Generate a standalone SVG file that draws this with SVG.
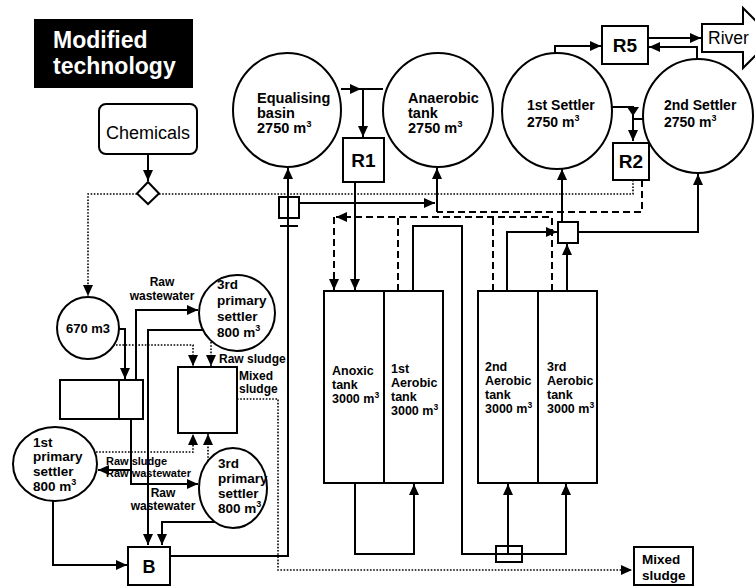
<svg xmlns="http://www.w3.org/2000/svg" width="755" height="586" viewBox="0 0 755 586">
<defs>
<style>
.n{fill:#fff;stroke:#000;stroke-width:2}
.s{fill:none;stroke:#000;stroke-width:2}
.d{fill:none;stroke:#000;stroke-width:1.6;stroke-dasharray:1.6 1.6}
.da{fill:none;stroke:#000;stroke-width:2;stroke-dasharray:7 4}
text{font-family:"Liberation Sans",Arial,sans-serif;font-weight:bold;fill:#000}
.reg{font-weight:normal}
</style>
<marker id="a" markerUnits="userSpaceOnUse" markerWidth="11" markerHeight="10" refX="11" refY="5" orient="auto">
<path d="M0,0 L11,5 L0,10 z" fill="#000"/>
</marker>
</defs>
<rect width="755" height="586" fill="#fff"/>

<g id="title">
<rect x="34" y="19" width="159" height="69" fill="#000"/>
<text x="53" y="48" font-size="23" style="fill:#fff">Modified</text>
<text x="53" y="74" font-size="23" style="fill:#fff">technology</text>
</g>

<g id="connectors">
<path class="s" d="M148,154 V181" marker-end="url(#a)"/>
<path class="d" d="M137,194 H88 V296" marker-end="url(#a)"/>
<path class="d" d="M159,194 H633 V180"/>
<path class="s" d="M118,329 H125 V379" marker-end="url(#a)"/>
<path class="d" d="M116,345 H193 V366" marker-end="url(#a)"/>
<path class="s" d="M136,380 V310 H198" marker-end="url(#a)"/>
<path class="s" d="M203,330 H148 V545" marker-end="url(#a)"/>
<path class="d" d="M211,342 V366" marker-end="url(#a)"/>
<path class="d" d="M237,399 H278 V570 H632" marker-end="url(#a)"/>
<path class="s" d="M131,419 V484 H198" marker-end="url(#a)"/>
<path class="s" d="M131,470 H98" marker-end="url(#a)"/>
<path class="d" d="M96,452 H193 V434" marker-end="url(#a)"/>
<path class="d" d="M208,461 V434" marker-end="url(#a)"/>
<path class="s" d="M215,522 H162 V545" marker-end="url(#a)"/>
<path class="s" d="M53,501 V565 H127" marker-end="url(#a)"/>
<path class="s" d="M170,556 H288 V168" marker-end="url(#a)"/>
<rect x="279" y="197" width="20" height="21" class="s"/>
<path class="s" d="M280,226 H298"/>
<path class="s" d="M299,203 H435" marker-end="url(#a)"/>
<path class="s" d="M437,212 V168" marker-end="url(#a)"/>
<path class="da" d="M642,180 V212 H437"/>
<path class="s" d="M341,89 H361" marker-end="url(#a)"/>
<path class="s" d="M358,89 H383"/>
<path class="s" d="M363,89 V137" marker-end="url(#a)"/>
<path class="s" d="M355,182 V290" marker-end="url(#a)"/>
<path class="da" d="M552,291 V217 H336" marker-end="url(#a)"/>
<path class="da" d="M334,217 V290" marker-end="url(#a)"/>
<path class="da" d="M398,291 V217"/>
<path class="da" d="M493,291 V217"/>
<path class="s" d="M413,291 V226 H462 V554 H566 V484" marker-end="url(#a)"/>
<path class="s" d="M508,554 V484" marker-end="url(#a)"/>
<rect x="496" y="546" width="26" height="16" class="s"/>
<path class="s" d="M355,483 V554 H414 V484" marker-end="url(#a)"/>
<path class="s" d="M507,291 V232 H557" marker-end="url(#a)"/>
<path class="s" d="M567,291 V244" marker-end="url(#a)"/>
<path class="s" d="M578,232 H698 V174" marker-end="url(#a)"/>
<path class="s" d="M562,222 V169" marker-end="url(#a)"/>
<rect x="558" y="222" width="20" height="21" class="n"/>
<path class="s" d="M612,107 H633 V141" marker-end="url(#a)"/>
<polygon points="627,107 639,107 633,116" fill="#000"/>
<path class="s" d="M633,119 H645"/>
<path class="s" d="M555,53 V46 H601" marker-end="url(#a)"/>
<path class="s" d="M648,38 H701" marker-end="url(#a)"/>
<path class="s" d="M697,59 V47 H649" marker-end="url(#a)"/>
</g>

<g id="chemicals">
<rect x="99" y="104" width="98" height="50" rx="7" class="n"/>
<text x="148" y="139" font-size="18" class="reg" text-anchor="middle">Chemicals</text>
</g>
<g id="dosing">
<polygon points="148,182 159,193.5 148,204 137,193.5" class="n"/>
</g>

<g id="tank670">
<circle cx="88" cy="328" r="31" class="n"/>
<text x="88" y="333" font-size="13" text-anchor="middle">670 m3</text>
</g>
<g id="splitbox">
<rect x="60" y="380" width="83" height="39" class="n"/>
<path class="s" d="M119,380 V419"/>
</g>

<g id="primary3top">
<circle cx="237" cy="313" r="38" class="n"/>
<text x="217" y="289" font-size="13.5">3rd</text>
<text x="217" y="305" font-size="13.5">primary</text>
<text x="217" y="321" font-size="13.5">settler</text>
<text x="217" y="337" font-size="13.5">800 m<tspan dy="-6" font-size="9">3</tspan></text>
</g>

<g id="mixbox">
<rect x="178" y="367" width="59" height="66" class="n"/>
</g>

<g id="primary1">
<ellipse cx="55" cy="464" rx="42" ry="37" class="n"/>
<text x="33" y="447" font-size="13.5">1st</text>
<text x="33" y="461" font-size="13.5">primary</text>
<text x="33" y="476" font-size="13.5">settler</text>
<text x="33" y="491" font-size="13.5">800 m<tspan dy="-6" font-size="9">3</tspan></text>
</g>

<g id="primary3bottom">
<ellipse cx="233" cy="488" rx="34" ry="40" class="n"/>
<text x="218" y="468" font-size="13.5">3rd</text>
<text x="218" y="483" font-size="13.5">primary</text>
<text x="218" y="498" font-size="13.5">settler</text>
<text x="218" y="513" font-size="13.5">800 m<tspan dy="-6" font-size="9">3</tspan></text>
</g>

<g id="B">
<rect x="128" y="547" width="42" height="38" class="n"/>
<text x="149" y="573" font-size="18" text-anchor="middle">B</text>
</g>

<g id="labels">
<text x="162" y="286" font-size="12" text-anchor="middle">Raw</text>
<text x="162" y="300" font-size="12" text-anchor="middle">wastewater</text>
<text x="219" y="363" font-size="12">Raw sludge</text>
<text x="239" y="380" font-size="12">Mixed</text>
<text x="239" y="393" font-size="12">sludge</text>
<text x="106" y="465" font-size="11">Raw sludge</text>
<text x="106" y="477" font-size="11">Raw wastewater</text>
<text x="163" y="497" font-size="12" text-anchor="middle">Raw</text>
<text x="163" y="510" font-size="12" text-anchor="middle">wastewater</text>
</g>

<g id="equalising">
<ellipse cx="287" cy="110" rx="54" ry="57" class="n"/>
<text x="257" y="103" font-size="14.5">Equalising</text>
<text x="257" y="118" font-size="14.5">basin</text>
<text x="257" y="133" font-size="14.5">2750 m<tspan dy="-6" font-size="9.5">3</tspan></text>
</g>

<g id="anaerobic">
<ellipse cx="438" cy="110" rx="55" ry="57" class="n"/>
<text x="408" y="103" font-size="14.5">Anaerobic</text>
<text x="408" y="118" font-size="14.5">tank</text>
<text x="408" y="133" font-size="14.5">2750 m<tspan dy="-6" font-size="9.5">3</tspan></text>
</g>

<g id="R1">
<rect x="343" y="138" width="41" height="44" class="n"/>
<text x="363.5" y="167" font-size="19" text-anchor="middle">R1</text>
</g>

<g id="settler1">
<ellipse cx="557" cy="111" rx="55" ry="58" class="n"/>
<text x="527" y="110" font-size="14">1st Settler</text>
<text x="527" y="127" font-size="14">2750 m<tspan dy="-6" font-size="9">3</tspan></text>
</g>

<g id="settler2">
<ellipse cx="698" cy="116" rx="55" ry="57" class="n"/>
<text x="664" y="110" font-size="14">2nd Settler</text>
<text x="664" y="127" font-size="14">2750 m<tspan dy="-6" font-size="9">3</tspan></text>
</g>

<g id="R2">
<rect x="613" y="143" width="36" height="37" class="n"/>
<text x="631" y="168" font-size="19" text-anchor="middle">R2</text>
</g>

<g id="R5">
<rect x="602" y="26" width="46" height="38" class="n"/>
<text x="625" y="52" font-size="19" text-anchor="middle">R5</text>
</g>

<g id="river">
<polygon points="702,24 743,24 743,8 773,38 743,68 743,52 702,52" class="n"/>
<text x="708" y="44" font-size="17.5" class="reg">River</text>
</g>

<g id="tanks1">
<rect x="324" y="291" width="119" height="192" class="n"/>
<path class="s" d="M384,291 V483"/>
<text x="332" y="375" font-size="12.5">Anoxic</text>
<text x="332" y="389" font-size="12.5">tank</text>
<text x="332" y="403" font-size="12.5">3000 m<tspan dy="-5" font-size="8.5">3</tspan></text>
<text x="391" y="373" font-size="12.5">1st</text>
<text x="391" y="387" font-size="12.5">Aerobic</text>
<text x="391" y="401" font-size="12.5">tank</text>
<text x="391" y="415" font-size="12.5">3000 m<tspan dy="-5" font-size="8.5">3</tspan></text>
</g>

<g id="tanks2">
<rect x="478" y="291" width="119" height="192" class="n"/>
<path class="s" d="M538,291 V483"/>
<text x="485" y="371" font-size="12.5">2nd</text>
<text x="485" y="385" font-size="12.5">Aerobic</text>
<text x="485" y="399" font-size="12.5">tank</text>
<text x="485" y="413" font-size="12.5">3000 m<tspan dy="-5" font-size="8.5">3</tspan></text>
<text x="547" y="371" font-size="12.5">3rd</text>
<text x="547" y="385" font-size="12.5">Aerobic</text>
<text x="547" y="399" font-size="12.5">tank</text>
<text x="547" y="413" font-size="12.5">3000 m<tspan dy="-5" font-size="8.5">3</tspan></text>
</g>

<g id="mixedsludge">
<rect x="634" y="547" width="59" height="38" class="n"/>
<text x="642" y="564" font-size="13.5">Mixed</text>
<text x="642" y="580" font-size="13.5">sludge</text>
</g>
</svg>
